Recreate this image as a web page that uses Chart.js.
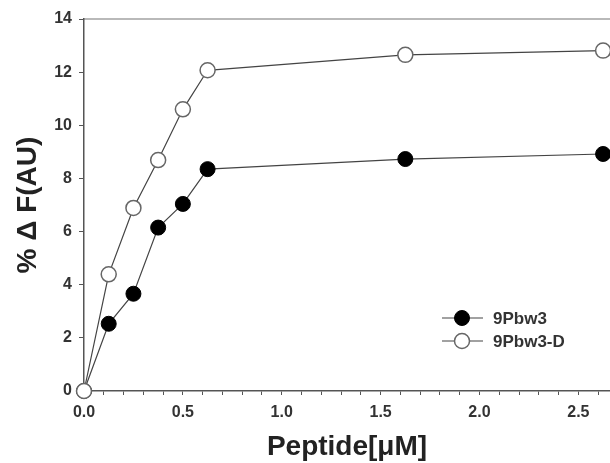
<!DOCTYPE html>
<html>
<head>
<meta charset="utf-8">
<script src="https://cdn.jsdelivr.net/npm/chart.js@4/dist/chart.umd.min.js"></script>
<style>
    html, body { margin: 0; padding: 0; background: #fff; }
    #wrap { width: 610px; height: 463px; }
</style>
</head>
<body>
<div id="wrap"><canvas id="chart" width="610" height="463"></canvas></div>
<script>
// Peptide concentration (uM) and fluorescence change (%)
const peptide = [0, 0.125, 0.25, 0.375, 0.5, 0.625, 1.625, 2.625];
const pbw3 = [0, 2.53, 3.66, 6.15, 7.04, 8.35, 8.73, 8.92];
const pbw3D = [0, 4.39, 6.89, 8.69, 10.6, 12.07, 12.65, 12.81];
const seriesNames = ['9Pbw3', '9Pbw3-D'];
const yTicks = [0, 2, 4, 6, 8, 10, 12, 14];
const xLabels = [0, 0.5, 1.0, 1.5, 2.0, 2.5];

const FONT = "'Liberation Sans', Arial, sans-serif";
const AXIS = '#555';

// Legend drawn inside plot area, like the original figure
const insideLegend = {
    id: 'insideLegend',
    afterDatasetsDraw(chart) {
        const { ctx, chartArea } = chart;
        const x0 = chartArea.left + 358;
        const y0 = chartArea.top + 299;
        chart.data.datasets.forEach((ds, i) => {
            const y = y0 + i * 23;
            ctx.save();
            ctx.strokeStyle = ds.borderColor;
            ctx.lineWidth = ds.borderWidth;
            ctx.beginPath();
            ctx.moveTo(x0, y);
            ctx.lineTo(x0 + 41, y);
            ctx.stroke();
            ctx.beginPath();
            ctx.arc(x0 + 20, y, ds.pointRadius, 0, Math.PI * 2);
            ctx.fillStyle = ds.pointBackgroundColor;
            ctx.fill();
            ctx.lineWidth = ds.pointBorderWidth;
            ctx.strokeStyle = ds.pointBorderColor;
            ctx.stroke();
            ctx.fillStyle = '#333';
            ctx.font = 'bold 17px ' + FONT;
            ctx.textBaseline = 'middle';
            ctx.fillText(ds.label, x0 + 51, y + 1);
            ctx.restore();
        });
    }
};

const ctx = document.getElementById('chart').getContext('2d');
new Chart(ctx, {
    type: 'line',
    data: {
        datasets: [
            {
                label: seriesNames[0],
                data: peptide.map((x, i) => ({ x: x, y: pbw3[i] })),
                borderColor: '#444',
                borderWidth: 1.2,
                pointRadius: 7.5,
                pointBackgroundColor: '#000',
                pointBorderColor: '#000',
                pointBorderWidth: 1,
                clip: false,
                order: 2,
            },
            {
                label: seriesNames[1],
                data: peptide.map((x, i) => ({ x: x, y: pbw3D[i] })),
                borderColor: '#444',
                borderWidth: 1.2,
                pointRadius: 7.5,
                pointBackgroundColor: '#fff',
                pointBorderColor: '#666',
                pointBorderWidth: 1.5,
                clip: false,
                order: 1,
            },
        ],
    },
    options: {
        responsive: false,
        animation: false,
        layout: { autoPadding: false, padding: { top: 19, right: 0, left: 0, bottom: 0 } },
        plugins: {
            legend: { display: false },
            tooltip: { enabled: false },
        },
        scales: {
            x: {
                type: 'linear',
                position: 'bottom',
                min: 0,
                max: 2.66,
                afterFit: (scale) => {
                    scale.height = 72;
                    scale.paddingLeft = 0;
                    scale.paddingRight = 0;
                },
                afterBuildTicks: (scale) => {
                    const ticks = [];
                    for (let k = 0; k <= 26; k++) ticks.push({ value: k / 10 });
                    scale.ticks = ticks;
                },
                ticks: {
                    autoSkip: false,
                    maxRotation: 0,
                    padding: 8,
                    color: '#333',
                    font: { family: FONT, size: 16, weight: 'bold' },
                    callback: (v) => {
                        const hit = xLabels.find(l => Math.abs(l - v) < 1e-6);
                        return hit === undefined ? '' : hit.toFixed(1);
                    },
                },
                grid: { drawOnChartArea: false, tickLength: 4, tickColor: AXIS, tickWidth: 1 },
                border: { color: AXIS, width: 1.5 },
                title: {
                    display: true,
                    text: 'Peptide[\u03bcM]',
                    color: '#222',
                    font: { family: FONT, size: 28, weight: 'bold', lineHeight: 1 },
                    padding: { top: 0, bottom: 2 },
                },
            },
            xTop: {
                type: 'linear',
                position: 'top',
                min: 0,
                max: 2.66,
                afterFit: (scale) => {
                    scale.height = 0;
                    scale.paddingLeft = 0;
                    scale.paddingRight = 0;
                },
                ticks: { display: false },
                grid: { drawOnChartArea: false, drawTicks: false },
                border: { color: '#b9b9b9', width: 2 },
            },
            y: {
                min: 0,
                max: 14,
                afterFit: (scale) => {
                    scale.width = 84;
                    scale.paddingTop = 0;
                    scale.paddingBottom = 0;
                },
                afterBuildTicks: (scale) => {
                    scale.ticks = yTicks.map(v => ({ value: v }));
                },
                ticks: {
                    padding: 7,
                    color: '#333',
                    font: { family: FONT, size: 16, weight: 'bold' },
                },
                grid: { drawOnChartArea: false, tickLength: 5, tickColor: AXIS, tickWidth: 1 },
                border: { color: AXIS, width: 1.5 },
                title: {
                    display: true,
                    text: '% \u0394 F(AU)',
                    color: '#222',
                    font: { family: FONT, size: 28, weight: 'bold', lineHeight: 1 },
                    padding: { top: 14, bottom: 0 },
                },
            },
        },
    },
    plugins: [insideLegend],
});
</script>
</body>
</html>
